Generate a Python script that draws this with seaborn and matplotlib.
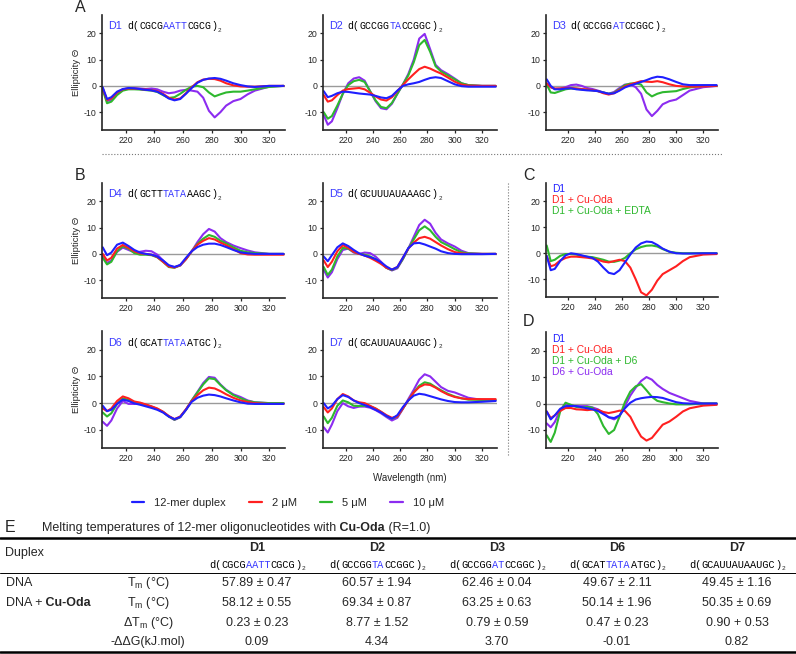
import re
import numpy as np
import pandas as pd
import matplotlib
matplotlib.use('Agg')
import matplotlib.pyplot as plt
from matplotlib.lines import Line2D
import seaborn as sns

sns.set_style('ticks')
plt.rcParams['font.family'] = ['Liberation Sans', 'DejaVu Sans']
plt.rcParams['axes.unicode_minus'] = False
plt.rcParams['mathtext.default'] = 'regular'

W, H = 796, 654

# ---- CD spectra (ellipticity vs wavelength) ----
wl = [204, 207, 210, 214, 218, 222, 226, 230, 234, 238, 242, 246, 250, 254,
      258, 262, 266, 270, 274, 278, 282, 286, 290, 295, 300, 305, 310, 320, 330]

conc = ['12-mer duplex', '2 μM', '5 μM', '10 μM']

d1_blue = [-0.5, -5.0, -4.3, -2.2, -1.2, -0.8, -0.9, -1.2, -1.5, -1.7, -2.2, -3.3, -4.8, -5.5, -5.0, -3.0, -0.8, 1.2, 2.3, 2.8, 3.0, 2.7, 2.0, 1.0, 0.3, -0.2, -0.4, 0.0, 0.0]
d1_red = [-1.0, -5.3, -4.8, -2.5, -1.3, -1.0, -1.0, -1.2, -1.4, -1.6, -2.0, -3.0, -4.5, -5.2, -4.8, -2.8, -0.5, 1.4, 2.4, 2.7, 2.6, 2.0, 1.0, 0.2, -0.2, -0.3, -0.3, 0.0, 0.0]
d1_green = [-1.5, -6.6, -6.0, -3.5, -1.8, -1.3, -1.3, -1.4, -1.6, -1.8, -2.3, -3.5, -4.6, -4.3, -3.0, -1.5, -0.3, 0.0, -0.5, -2.5, -4.0, -3.2, -2.5, -2.2, -2.2, -1.8, -1.3, -0.4, 0.0]
d1_purple = [-1.0, -5.8, -5.3, -2.8, -1.3, -1.0, -1.0, -1.0, -1.2, -1.0, -1.3, -2.2, -2.8, -2.5, -1.8, -1.5, -1.8, -2.2, -4.5, -9.5, -12.0, -10.0, -7.5, -5.8, -5.0, -3.2, -1.8, -0.3, 0.0]

d2_blue = [-2.0, -4.3, -3.8, -2.8, -2.2, -2.3, -2.6, -2.9, -3.1, -3.3, -3.8, -4.4, -4.7, -3.8, -1.8, 0.0, 0.6, 1.0, 1.5, 2.3, 3.0, 3.3, 3.0, 1.8, 0.6, -0.1, -0.3, -0.3, -0.3]
d2_red = [-3.5, -6.0, -5.5, -3.5, -1.8, -1.2, -1.0, -0.8, -1.3, -2.6, -4.0, -5.2, -5.6, -4.3, -2.0, 0.3, 2.5, 4.5, 6.4, 7.3, 6.6, 5.6, 4.7, 3.2, 1.6, 0.5, 0.1, 0.0, 0.0]
d2_green = [-10.0, -12.5, -11.5, -7.5, -3.0, 0.3, 1.8, 2.3, 1.5, -2.0, -5.5, -8.0, -8.5, -6.5, -3.0, 0.5, 4.0, 9.0, 15.5, 17.5, 13.0, 7.5, 5.5, 4.0, 2.5, 1.0, 0.3, 0.0, 0.0]
d2_purple = [-11.0, -14.8, -13.5, -8.5, -3.0, 1.0, 2.8, 3.3, 2.0, -2.0, -5.8, -8.5, -8.9, -6.8, -3.0, 0.5, 4.5, 10.0, 18.0, 19.8, 14.0, 8.0, 6.0, 4.5, 2.8, 1.0, 0.3, 0.0, 0.0]

d3_blue = [2.5, 0.0, -1.3, -1.3, -1.0, -0.9, -1.3, -1.5, -1.7, -1.8, -2.0, -2.5, -3.0, -2.8, -1.8, -0.6, 0.2, 0.8, 1.5, 2.2, 3.0, 3.5, 3.3, 2.5, 1.5, 0.6, 0.3, 0.3, 0.3]
d3_red = [1.0, -0.5, -1.0, -1.0, -0.8, -0.8, -1.0, -1.2, -1.4, -1.6, -2.0, -2.8, -3.3, -2.8, -1.5, -0.2, 0.6, 1.2, 1.8, 1.6, 1.5, 1.8, 1.4, 0.6, 0.0, -0.2, -0.3, -0.2, 0.0]
d3_green = [0.5, -2.5, -2.7, -2.0, -1.3, -1.0, -1.1, -1.3, -1.5, -1.7, -2.0, -2.5, -3.0, -2.6, -1.2, 0.3, 0.9, 1.0, 0.5, -2.5, -4.0, -3.0, -2.4, -2.2, -2.0, -1.2, -0.6, 0.0, 0.0]
d3_purple = [0.5, -0.5, -1.2, -1.0, -0.5, 0.3, 0.5, 0.0, -0.8, -1.2, -1.8, -2.5, -3.0, -2.3, -0.8, 0.5, 0.6, -0.5, -3.0, -9.0, -11.5, -9.5, -7.0, -5.8, -5.2, -3.5, -1.8, -0.5, 0.0]

d4_blue = [2.5, -0.5, 0.5, 3.5, 4.3, 3.0, 1.5, 0.5, 0.0, -0.3, -1.0, -2.5, -4.3, -5.0, -4.2, -1.5, 1.0, 2.6, 3.5, 3.9, 3.9, 3.4, 2.6, 1.5, 0.6, 0.2, 0.0, 0.0, 0.0]
d4_red = [0.0, -2.5, -1.5, 2.0, 3.4, 2.3, 1.0, 0.2, 0.0, -0.3, -1.2, -3.0, -4.8, -5.2, -4.3, -2.0, 1.0, 3.5, 5.0, 6.0, 5.5, 4.3, 3.3, 1.8, 0.3, -0.2, -0.3, -0.3, -0.3]
d4_green = [-1.5, -4.0, -3.0, 1.0, 2.9, 2.0, 0.3, -0.3, -0.3, -0.5, -1.3, -3.0, -5.0, -5.3, -4.3, -2.0, 1.0, 3.8, 5.8, 7.2, 6.5, 5.0, 4.0, 2.5, 1.2, 0.6, 0.3, 0.0, 0.0]
d4_purple = [-1.0, -3.5, -2.5, 0.8, 2.4, 1.5, 0.6, 0.8, 1.2, 1.0, -0.3, -2.5, -4.5, -5.0, -4.5, -2.0, 1.0, 4.5, 7.5, 9.5, 8.5, 6.0, 4.5, 3.2, 2.2, 1.3, 0.6, 0.0, 0.0]

d5_blue = [-1.0, -2.8, -0.5, 2.5, 4.0, 3.0, 1.5, 0.2, -0.7, -1.2, -2.0, -3.2, -4.8, -6.0, -5.0, -1.5, 2.2, 4.0, 4.2, 3.6, 2.8, 2.0, 1.0, 0.3, 0.0, -0.1, -0.1, -0.1, 0.0]
d5_red = [-2.5, -5.0, -3.0, 1.0, 3.3, 2.3, 0.8, 0.0, -0.6, -1.5, -2.6, -3.8, -5.3, -6.0, -5.0, -1.5, 2.0, 4.3, 6.0, 6.5, 5.8, 4.5, 3.2, 1.8, 0.7, 0.2, 0.0, 0.0, 0.0]
d5_green = [-5.0, -8.0, -6.0, -1.0, 2.3, 2.0, 0.8, 0.0, -0.3, -1.0, -2.0, -3.5, -5.3, -6.2, -5.2, -2.0, 2.0, 5.5, 9.0, 10.5, 9.0, 6.5, 4.5, 3.2, 1.8, 0.6, 0.2, 0.0, 0.0]
d5_purple = [-6.0, -9.0, -7.0, -2.0, 1.5, 2.0, 0.5, 0.0, 0.5, 0.3, -1.0, -3.0, -5.3, -6.3, -5.5, -2.0, 2.0, 6.5, 11.0, 13.0, 11.5, 8.0, 5.5, 4.0, 2.8, 1.2, 0.3, 0.0, 0.0]

d6_blue = [-1.0, -3.0, -2.5, -0.3, 1.3, 0.8, -0.1, -0.6, -1.2, -1.8, -2.5, -3.5, -5.0, -6.0, -5.2, -2.5, 0.5, 2.0, 2.8, 3.2, 3.0, 2.5, 1.8, 1.0, 0.3, -0.2, -0.3, -0.3, -0.3]
d6_red = [-2.0, -3.0, -2.0, 0.8, 2.5, 1.8, 0.6, 0.2, -0.5, -1.2, -2.0, -3.2, -4.8, -6.0, -5.0, -2.3, 0.8, 3.0, 4.8, 5.8, 5.5, 4.5, 3.3, 2.0, 1.0, 0.4, 0.0, -0.3, -0.3]
d6_green = [-3.5, -5.0, -3.8, -0.3, 1.8, 1.2, 0.2, -0.2, -0.8, -1.4, -2.2, -3.3, -5.0, -6.2, -5.2, -2.5, 1.0, 4.0, 7.0, 9.3, 9.0, 6.8, 4.8, 3.0, 1.8, 0.8, 0.3, 0.0, 0.0]
d6_purple = [-7.0, -8.5, -6.5, -2.0, 0.8, -0.3, -0.3, 0.0, -0.6, -1.3, -2.2, -3.3, -5.0, -6.3, -5.3, -2.5, 1.0, 4.2, 7.5, 9.8, 9.5, 7.0, 5.0, 3.3, 2.3, 1.0, 0.3, 0.0, 0.0]

d7_blue = [0.0, -2.0, -1.0, 1.5, 3.0, 2.3, 1.0, 0.0, -0.7, -1.5, -2.5, -3.5, -4.8, -5.8, -4.5, -1.5, 1.0, 2.8, 3.5, 3.2, 2.6, 2.0, 1.4, 0.8, 0.4, 0.3, 0.3, 0.5, 0.8]
d7_red = [-1.5, -3.5, -2.0, 1.5, 3.4, 2.5, 1.0, 0.3, 0.0, -1.0, -2.0, -3.2, -4.5, -5.5, -5.0, -2.0, 1.0, 4.0, 6.0, 7.0, 6.8, 5.8, 4.5, 3.2, 2.3, 1.8, 1.5, 1.5, 1.5]
d7_green = [-5.0, -7.5, -5.5, -1.0, 1.0, 0.3, -1.0, -1.1, -1.0, -1.2, -2.0, -3.3, -4.8, -5.8, -5.0, -2.0, 1.0, 4.0, 6.5, 7.8, 7.3, 6.0, 4.8, 3.5, 2.5, 1.8, 1.3, 1.2, 1.2]
d7_purple = [-9.0, -11.0, -8.0, -3.0, 0.0, -1.2, -1.8, -1.3, -1.3, -1.7, -2.6, -3.8, -5.2, -6.5, -5.5, -2.2, 1.5, 5.0, 8.8, 10.8, 10.0, 8.0, 6.0, 4.6, 4.0, 3.0, 2.0, 1.2, 1.0]

c_labels = ['D1', 'D1 + Cu-Oda', 'D1 + Cu-Oda + EDTA']
c_blue = [-1.0, -6.5, -6.0, -3.0, -0.8, 0.0, -0.3, -0.8, -1.3, -1.8, -3.2, -5.5, -7.5, -8.0, -6.5, -3.5, -0.5, 2.2, 3.8, 4.5, 4.3, 3.2, 1.8, 0.6, 0.0, -0.1, -0.1, 0.0, 0.0]
c_red = [-1.0, -5.0, -4.5, -2.8, -1.8, -1.3, -1.3, -1.5, -1.7, -2.0, -2.5, -3.2, -3.5, -3.0, -2.5, -3.0, -5.5, -10.0, -15.0, -16.2, -14.0, -10.5, -8.0, -6.5, -5.0, -3.0, -1.5, -0.5, -0.3]
c_green = [3.0, -3.0, -2.5, -1.0, -0.3, -0.3, -0.5, -1.0, -1.3, -1.5, -2.0, -2.5, -3.2, -3.3, -2.8, -1.8, 0.0, 1.5, 2.4, 2.9, 3.0, 2.6, 1.6, 0.6, 0.2, 0.0, 0.0, 0.0, 0.0]

dd_labels = ['D1', 'D1 + Cu-Oda', 'D1 + Cu-Oda + D6', 'D6 + Cu-Oda']
dd_blue = [-3.0, -6.0, -4.5, -2.0, -1.0, -0.9, -1.0, -1.4, -1.8, -2.2, -2.8, -4.0, -5.2, -5.5, -4.5, -1.8, 0.3, 1.5, 2.0, 2.3, 2.5, 2.4, 2.1, 1.3, 0.5, 0.1, 0.0, 0.0, 0.0]
dd_red = [-3.0, -5.5, -4.5, -2.8, -1.7, -1.7, -2.2, -2.3, -2.5, -2.3, -2.4, -3.2, -3.6, -3.2, -2.7, -2.8, -5.0, -9.0, -12.5, -14.0, -13.0, -10.5, -8.0, -6.8, -5.0, -3.0, -1.8, -0.8, -0.5]
dd_green = [-12.0, -14.5, -11.0, -3.0, 0.3, -0.5, -1.3, -1.5, -1.3, -1.6, -4.0, -8.5, -11.5, -10.0, -5.0, 0.5, 4.5, 6.5, 7.3, 5.0, 2.5, 1.0, 0.5, 0.0, -0.3, -0.3, -0.3, 0.0, 0.0]
dd_purple = [-7.5, -9.0, -7.0, -2.5, 0.0, -0.8, -1.0, -1.0, -1.0, -1.5, -2.2, -3.5, -5.2, -6.0, -4.8, -1.0, 3.0, 6.0, 8.5, 10.0, 9.0, 7.0, 5.5, 4.0, 3.0, 2.0, 1.0, 0.0, 0.0]

seqs = {'D1': 'CGCG[AATT]CGCG', 'D2': 'GCCGG[TA]CCGGC', 'D3': 'GCCGG[AT]CCGGC',
        'D4': 'GCTT[TATA]AAGC', 'D5': 'GCUUUAUAAAGC', 'D6': 'GCAT[TATA]ATGC',
        'D7': 'GCAUUAUAAUGC'}

# ---- Table E ----
tab_duplex = ['D1', 'D2', 'D3', 'D6', 'D7']
tm_dna = ['57.89 ± 0.47', '60.57 ± 1.94', '62.46 ± 0.04', '49.67 ± 2.11', '49.45 ± 1.16']
tm_cu = ['58.12 ± 0.55', '69.34 ± 0.87', '63.25 ± 0.63', '50.14 ± 1.96', '50.35 ± 0.69']
d_tm = ['0.23 ± 0.23', '8.77 ± 1.52', '0.79 ± 0.59', '0.47 ± 0.23', '0.90 + 0.53']
ddg = ['0.09', '4.34', '3.70', '-0.01', '0.82']

BLUE, RED, GREEN, PURPLE = '#1f1fff', '#ff2020', '#2eb82e', '#8c2cf0'
SEQBLUE = '#3a3aff'
MONO = 'Liberation Mono'

fig = plt.figure(figsize=(W / 100, H / 100), dpi=100)


def rect(l, t, r, b):
    return [l / W, 1 - b / H, (r - l) / W, (b - t) / H]


def seq_pieces(s):
    out = [('d(', 'black')]
    for part in re.split(r'(\[[A-Z]+\])', s):
        if not part:
            continue
        if part.startswith('['):
            out.append((part[1:-1], SEQBLUE))
        else:
            out.append((part, 'black'))
    out.append((')', 'black'))
    return out


def draw_seq(ax, xy, xycoords, s, fs, start=0.0, center=False):
    pieces = seq_pieces(s)
    cw = 0.6 * fs
    n = sum(len(p) for p, _ in pieces)
    off = start
    if center:
        off -= (n * cw + 0.6 * fs * 0.6) / 2
    for txt, col in pieces:
        ax.annotate(txt, xy=xy, xycoords=xycoords, xytext=(off, 0),
                    textcoords='offset points', fontsize=fs, family=MONO,
                    color=col, va='baseline', ha='left')
        off += len(txt) * cw
    ax.annotate('2', xy=xy, xycoords=xycoords, xytext=(off + 0.3, -1.8),
                textcoords='offset points', fontsize=fs * 0.62, family=MONO,
                va='baseline', ha='left')


def cd_panel(box, series, labels, colors, title=None, ylabel=False):
    ax = fig.add_axes(rect(*box))
    df = pd.DataFrame({'Wavelength': wl * len(series),
                       'CD': np.concatenate(series),
                       'cond': np.repeat(labels, len(wl))})
    ax.axhline(0, color='#9a9a9a', lw=1.0, zorder=0)
    sns.lineplot(data=df, x='Wavelength', y='CD', hue='cond',
                 hue_order=labels[::-1], palette=dict(zip(labels, colors)),
                 estimator=None, lw=1.5, legend=False, ax=ax)
    ax.set_xlim(203.5, 331)
    ax.set_ylim(-16.8, 27)
    ax.set_xticks([220, 240, 260, 280, 300, 320])
    ax.set_yticks([-10, 0, 10, 20])
    ax.tick_params(labelsize=6.3, length=2.5, width=0.9, pad=1.5)
    for sp in ['left', 'bottom']:
        ax.spines[sp].set_linewidth(1.2)
    sns.despine(ax=ax)
    ax.set_xlabel('')
    if ylabel:
        ax.set_ylabel('Ellipticity Θ', fontsize=6.8, labelpad=2)
    else:
        ax.set_ylabel('')
    if title is not None:
        ax.text(0.035, 0.875, title, transform=ax.transAxes, color=SEQBLUE,
                fontsize=7.8, va='baseline')
        draw_seq(ax, (0.035, 0.875), 'axes fraction', seqs[title], 7.2,
                 start=13.5)
    return ax


cols4 = [BLUE, RED, GREEN, PURPLE]
cd_panel((102, 15, 285, 130), [d1_blue, d1_red, d1_green, d1_purple], conc, cols4, 'D1', True)
cd_panel((323, 15, 497, 130), [d2_blue, d2_red, d2_green, d2_purple], conc, cols4, 'D2')
cd_panel((546, 15, 718, 130), [d3_blue, d3_red, d3_green, d3_purple], conc, cols4, 'D3')
cd_panel((102, 183, 285, 298), [d4_blue, d4_red, d4_green, d4_purple], conc, cols4, 'D4', True)
cd_panel((323, 183, 497, 298), [d5_blue, d5_red, d5_green, d5_purple], conc, cols4, 'D5')
cd_panel((102, 331, 285, 448), [d6_blue, d6_red, d6_green, d6_purple], conc, cols4, 'D6', True)
cd_panel((323, 331, 497, 448), [d7_blue, d7_red, d7_green, d7_purple], conc, cols4, 'D7')
cd_panel((546, 183, 718, 297), [c_blue, c_red, c_green], c_labels, [BLUE, RED, GREEN])
cd_panel((546, 332, 718, 448), [dd_blue, dd_red, dd_green, dd_purple], dd_labels, cols4)

# overlay in pixel coordinates for labels, separators and the table
ov = fig.add_axes([0, 0, 1, 1])
ov.set_xlim(0, W)
ov.set_ylim(H, 0)
ov.axis('off')
ov.patch.set_alpha(0)

for letter, (x, y) in zip('ABCD', [(80, 7), (80, 175), (529, 175), (529, 322)]):
    ov.text(x, y, letter, fontsize=11.5, ha='center', va='center')

ov.plot([102, 722], [154, 154], ls=':', color='#777777', lw=0.8)
ov.plot([508, 508], [183, 456], ls=':', color='#777777', lw=0.8)

for i, (lab, col) in enumerate(zip(c_labels, [BLUE, RED, GREEN])):
    ov.text(552, 189 + 11 * i, lab, color=col, fontsize=7.4, va='center')
for i, (lab, col) in enumerate(zip(dd_labels, cols4)):
    ov.text(552, 339 + 10.9 * i, lab, color=col, fontsize=7.4, va='center')

ov.text(410, 478, 'Wavelength (nm)', fontsize=7, ha='center', va='center')

handles = [Line2D([], [], color=c, lw=1.6) for c in cols4]
fig.legend(handles, conc, loc='center', bbox_to_anchor=(288 / W, 1 - 503 / H),
           ncol=4, frameon=False, fontsize=8, handlelength=1.1,
           handletextpad=0.9, columnspacing=2.1)

# ---- table E ----
ov.text(10, 528, 'E', fontsize=11.5, ha='center', va='center')
t1 = ov.text(42, 528, 'Melting temperatures of 12-mer oligonucleotides with',
             fontsize=9, va='center')
t2 = ov.annotate(' Cu-Oda', xy=(1, 0), xycoords=t1, va='bottom', fontsize=9,
                 fontweight='bold')
ov.annotate(' (R=1.0)', xy=(1, 0), xycoords=t2, va='bottom', fontsize=9)

ov.plot([0, W], [538, 538], color='black', lw=1.8)
ov.plot([0, W], [573, 573], color='black', lw=0.7)
ov.plot([0, W], [652, 652], color='black', lw=1.8)

ov.text(5, 553, 'Duplex', fontsize=9, va='center')
col_x = [257, 377, 497, 617, 737]
for x, name in zip(col_x, tab_duplex):
    ov.text(x, 548, name, fontsize=9, fontweight='bold', ha='center', va='center')
    draw_seq(ov, (x, 568), 'data', seqs[name], 7.4, center=True)

row_y = [583, 603, 623, 642]
ov.text(6, row_y[0], 'DNA', fontsize=9, va='center')
r1 = ov.text(6, row_y[1], 'DNA +', fontsize=9, va='center')
ov.annotate(' Cu-Oda', xy=(1, 0), xycoords=r1, va='bottom', fontsize=9,
            fontweight='bold')
params = ['T$_\\mathregular{m}$ (°C)', 'T$_\\mathregular{m}$ (°C)',
          'ΔT$_\\mathregular{m}$ (°C)', '-ΔΔG(kJ.mol)']
for y, p, row in zip(row_y, params, [tm_dna, tm_cu, d_tm, ddg]):
    ov.text(148, y, p, fontsize=9, ha='center', va='center')
    for x, v in zip(col_x, row):
        ov.text(x, y, v, fontsize=9, ha='center', va='center')

fig.savefig('out.png', dpi=100)
